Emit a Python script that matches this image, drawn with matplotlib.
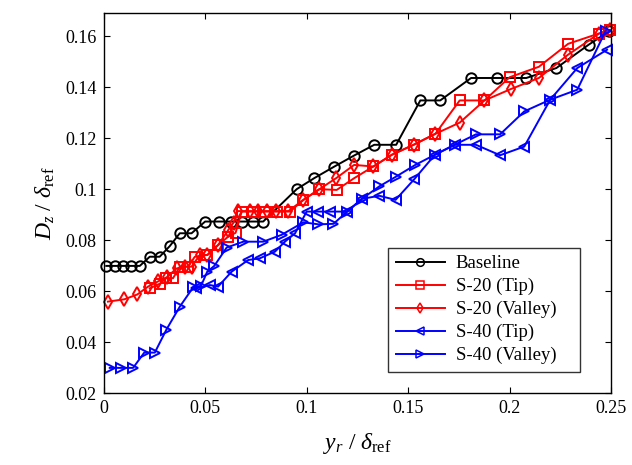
import matplotlib
matplotlib.use('Agg')
from matplotlib import pyplot as plt
from matplotlib.ticker import FuncFormatter

# Baseline
base_x = [0.0013, 0.0054, 0.0095, 0.0137, 0.0178, 0.0227, 0.0276, 0.0326, 0.0375, 0.0433,
          0.0500, 0.0568, 0.0627, 0.0683, 0.0737, 0.0786, 0.0951, 0.1037, 0.1135, 0.1234,
          0.1333, 0.1441, 0.1560, 0.1658, 0.1810, 0.1940, 0.2082, 0.2230, 0.2390, 0.2490]
base_y = [0.0700, 0.0700, 0.0700, 0.0700, 0.0700, 0.0736, 0.0736, 0.0778, 0.0828, 0.0828,
          0.0874, 0.0874, 0.0874, 0.0874, 0.0874, 0.0874, 0.1001, 0.1044, 0.1089, 0.1133,
          0.1175, 0.1175, 0.1349, 0.1349, 0.1437, 0.1437, 0.1437, 0.1476, 0.1568, 0.1620]

# S-20 (Tip)
s20t_x = [0.0227, 0.0276, 0.0309, 0.0342, 0.0375, 0.0416, 0.0449, 0.0511, 0.0564, 0.0611,
          0.0650, 0.0680, 0.0737, 0.0795, 0.0852, 0.0918, 0.0984, 0.1063, 0.1148, 0.1234,
          0.1329, 0.1420, 0.1527, 0.1634, 0.1754, 0.1876, 0.2000, 0.2144, 0.2288, 0.2438,
          0.2495]
s20t_y = [0.0612, 0.0630, 0.0652, 0.0652, 0.0697, 0.0697, 0.0736, 0.0743, 0.0782, 0.0813,
          0.0830, 0.0913, 0.0913, 0.0913, 0.0913, 0.0913, 0.0959, 0.1001, 0.0998, 0.1044,
          0.1090, 0.1136, 0.1175, 0.1218, 0.1349, 0.1349, 0.1440, 0.1481, 0.1571, 0.1611,
          0.1625]

# S-20 (Valley)
s20v_x = [0.0021, 0.0102, 0.0166, 0.0219, 0.0270, 0.0310, 0.0359, 0.0400, 0.0433, 0.0474,
          0.0511, 0.0564, 0.0614, 0.0640, 0.0660, 0.0721, 0.0762, 0.0803, 0.0849, 0.0910,
          0.0984, 0.1063, 0.1145, 0.1234, 0.1329, 0.1420, 0.1527, 0.1634, 0.1754, 0.1876,
          0.2007, 0.2144, 0.2287, 0.2440, 0.2495]
s20v_y = [0.0560, 0.0569, 0.0588, 0.0619, 0.0640, 0.0655, 0.0690, 0.0697, 0.0697, 0.0743,
          0.0743, 0.0782, 0.0841, 0.0870, 0.0915, 0.0915, 0.0915, 0.0915, 0.0915, 0.0915,
          0.0959, 0.1001, 0.1044, 0.1096, 0.1090, 0.1136, 0.1175, 0.1218, 0.1262, 0.1349,
          0.1394, 0.1437, 0.1528, 0.1611, 0.1625]

# S-40 (Tip)
s40t_x = [0.0457, 0.0523, 0.0564, 0.0630, 0.0712, 0.0770, 0.0844, 0.0893, 0.0943, 0.1000,
          0.1058, 0.1115, 0.1200, 0.1272, 0.1358, 0.1438, 0.1530, 0.1632, 0.1729, 0.1834,
          0.1953, 0.2072, 0.2200, 0.2333, 0.2480]
s40t_y = [0.0612, 0.0625, 0.0619, 0.0677, 0.0723, 0.0730, 0.0756, 0.0795, 0.0828, 0.0913,
          0.0913, 0.0913, 0.0913, 0.0963, 0.0975, 0.0959, 0.1040, 0.1136, 0.1175, 0.1175,
          0.1134, 0.1168, 0.1352, 0.1476, 0.1548]

# S-40 (Valley)
s40v_x = [0.0030, 0.0087, 0.0145, 0.0200, 0.0252, 0.0309, 0.0375, 0.0441, 0.0480, 0.0510,
          0.0545, 0.0606, 0.0688, 0.0786, 0.0877, 0.0984, 0.1058, 0.1132, 0.1200, 0.1272,
          0.1358, 0.1440, 0.1535, 0.1632, 0.1729, 0.1834, 0.1953, 0.2072, 0.2200, 0.2333,
          0.2473]
s40v_y = [0.0300, 0.0300, 0.0300, 0.0360, 0.0360, 0.0450, 0.0540, 0.0616, 0.0622, 0.0677,
          0.0700, 0.0772, 0.0795, 0.0795, 0.0822, 0.0871, 0.0863, 0.0865, 0.0913, 0.0963,
          0.1012, 0.1050, 0.1096, 0.1136, 0.1175, 0.1216, 0.1216, 0.1306, 0.1352, 0.1391,
          0.1622]

series = [
    (base_x, base_y, 'k', 'o', 'Baseline'),
    (s20t_x, s20t_y, 'r', 's', 'S-20 (Tip)'),
    (s20v_x, s20v_y, 'r', 'd', 'S-20 (Valley)'),
    (s40t_x, s40t_y, 'b', '<', 'S-40 (Tip)'),
    (s40v_x, s40v_y, 'b', '>', 'S-40 (Valley)'),
]

plt.rcParams['font.family'] = ['Liberation Serif', 'DejaVu Serif']
plt.rcParams['mathtext.fontset'] = 'custom'
plt.rcParams['mathtext.rm'] = 'Liberation Serif'
plt.rcParams['mathtext.it'] = 'Liberation Serif:italic'

fig = plt.figure(figsize=(6.32, 4.65), dpi=100)
ax = fig.add_axes([0.164, 0.154, 0.803, 0.817])

for x, y, c, m, label in series:
    ax.plot(x, y, color=c, marker=m, markersize=7.5, markerfacecolor='none',
            markeredgecolor=c, markeredgewidth=1.4, linewidth=1.4,
            label=label, clip_on=False)

ax.set_xlim(0, 0.25)
ax.set_ylim(0.02, 0.169)
ax.set_xticks([0, 0.05, 0.1, 0.15, 0.2, 0.25])
ax.set_yticks([0.02, 0.04, 0.06, 0.08, 0.1, 0.12, 0.14, 0.16])
fmt = FuncFormatter(lambda v, pos: '%g' % round(v, 4))
ax.xaxis.set_major_formatter(fmt)
ax.yaxis.set_major_formatter(fmt)
ax.tick_params(direction='in', top=True, right=True, length=4, width=0.8,
               labelsize=13, pad=5)
for s in ax.spines.values():
    s.set_linewidth(1.0)

ax.set_xlabel(r'$y_r\ /\ \delta_{\rm ref}$', fontsize=17, labelpad=10)
ax.set_ylabel(r'$D_z\ /\ \delta_{\rm ref}$', fontsize=17, labelpad=6)

leg = ax.legend(loc='lower left', bbox_to_anchor=(0.561, 0.057, 0.377, 0.386),
                mode='expand', fontsize=13.5, handlelength=2.6,
                borderaxespad=0, frameon=True, fancybox=False, labelspacing=0.3,
                handletextpad=0.6, borderpad=0.4)
leg.get_frame().set_edgecolor('k')
leg.get_frame().set_linewidth(1.0)
for h in leg.legend_handles:
    h.set_markersize(5.5)
    h.set_markeredgewidth(1.1)

fig.savefig('out.png', dpi=100)
